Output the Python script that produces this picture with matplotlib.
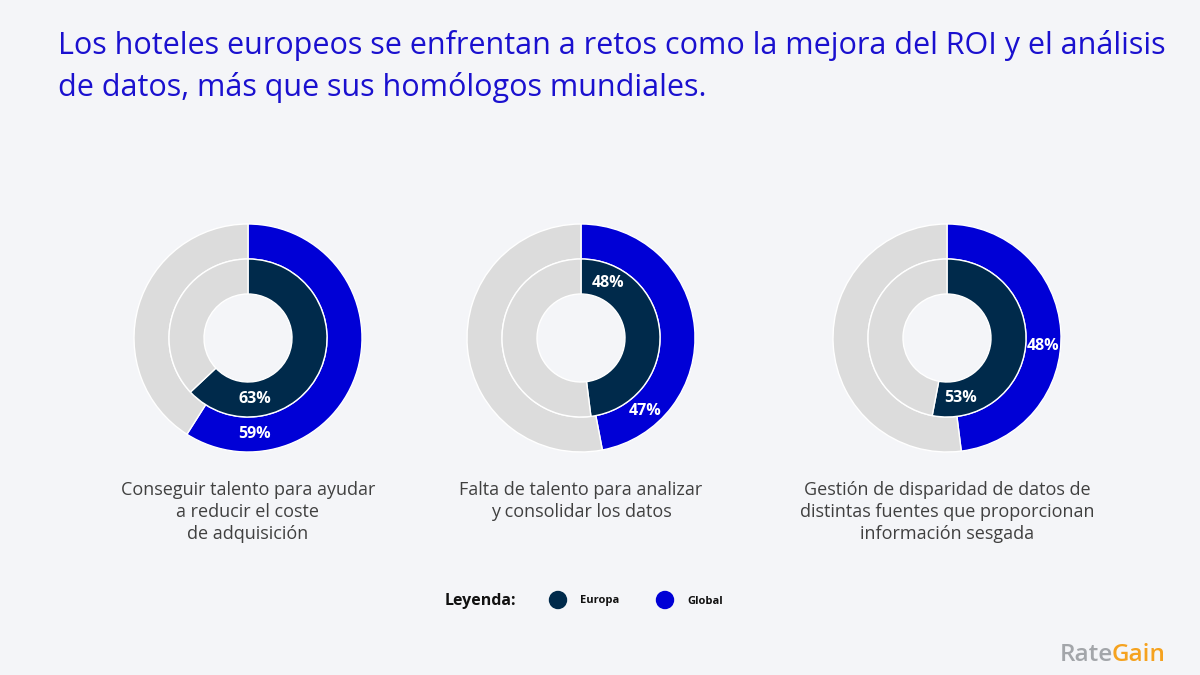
import matplotlib.pyplot as plt
import numpy as np

# data
categories = [
    'Conseguir talento para ayudar\na reducir el coste\nde adquisición',
    'Falta de talento para analizar\ny consolidar los datos',
    'Gestión de disparidad de datos de\ndistintas fuentes que proporcionan\ninformación sesgada',
]
europa = [63, 48, 53]
global_ = [59, 47, 48]
title = ('Los hoteles europeos se enfrentan a retos como la mejora del ROI y el análisis\n'
         'de datos, más que sus homólogos mundiales.')

# style
BG = '#f4f5f8'
BLUE = '#0000d6'
NAVY = '#002a4b'
GREY = '#dcdcdc'
TITLE_C = '#1a10cf'
FONT = ['Open Sans', 'DejaVu Sans']

centers_x = [248, 581, 947]
center_y = 675 - 338
R_OUT, R_MID, R_IN = 114, 79, 44
# where along each arc the value label sits (fraction of the arc)
eu_lab_frac = [0.765, 0.15, 0.875]
gl_lab_frac = [0.83, 0.82, 0.55]

plt.rcParams['font.family'] = FONT

fig = plt.figure(figsize=(12, 6.75), dpi=100, facecolor=BG)
ax = fig.add_axes([0, 0, 1, 1])
ax.set_facecolor(BG)


def label_pos(cx, cy, r, value, frac):
    ang = np.deg2rad(90 - 360 * value / 100 * frac)
    return cx + r * np.cos(ang), cy + r * np.sin(ang)


for cx, cat, eu, gl, fe, fg in zip(centers_x, categories, europa, global_, eu_lab_frac, gl_lab_frac):
    wp = dict(width=R_OUT - R_MID, edgecolor='white', linewidth=1.0)
    ax.pie([gl, 100 - gl], colors=[BLUE, GREY], radius=R_OUT, center=(cx, center_y),
           startangle=90, counterclock=False, wedgeprops=wp, frame=True)
    wp = dict(width=R_MID - R_IN, edgecolor='white', linewidth=1.0)
    ax.pie([eu, 100 - eu], colors=[NAVY, GREY], radius=R_MID, center=(cx, center_y),
           startangle=90, counterclock=False, wedgeprops=wp, frame=True)

    x, y = label_pos(cx, center_y, (R_MID + R_IN) / 2, eu, fe)
    ax.text(x, y, f'{eu}%', color='white', fontsize=11.5, fontweight='bold',
            ha='center', va='center')
    x, y = label_pos(cx, center_y, (R_OUT + R_MID) / 2, gl, fg)
    ax.text(x, y, f'{gl}%', color='white', fontsize=11.5, fontweight='bold',
            ha='center', va='center')

    ax.text(cx, 675 - 481, cat, color='#404040', fontsize=13, ha='center', va='top',
            linespacing=1.3)

ax.set_xlim(0, 1200)
ax.set_ylim(0, 675)
ax.set_aspect('auto')
ax.axis('off')

ax.text(58, 675 - 30, title, color=TITLE_C, fontsize=22, ha='left', va='top',
        linespacing=1.45)

# legend
ax.text(445, 675 - 601, 'Leyenda:', fontsize=11.5, fontweight='bold', color='#111111',
        va='center', ha='left')
ax.scatter([558, 665], [675 - 600, 675 - 600], s=150, c=[NAVY, BLUE])
ax.text(580, 675 - 601, 'Europa', fontsize=8, fontweight='bold', color='#111111', va='center')
ax.text(687, 675 - 601, 'Global', fontsize=8, fontweight='bold', color='#111111', va='center')

# logo
t = ax.text(1060, 675 - 655, 'Rate', fontsize=17.5, fontweight='semibold', color='#a3a6aa',
            va='center', ha='left')
ax.annotate('Gain', xycoords=t, xy=(1, 0.5), xytext=(-1, 0), textcoords='offset points',
            va='center', ha='left', fontsize=17.5, fontweight='semibold', color='#f5a21f')

fig.savefig('out.png', dpi=100, facecolor=BG)
